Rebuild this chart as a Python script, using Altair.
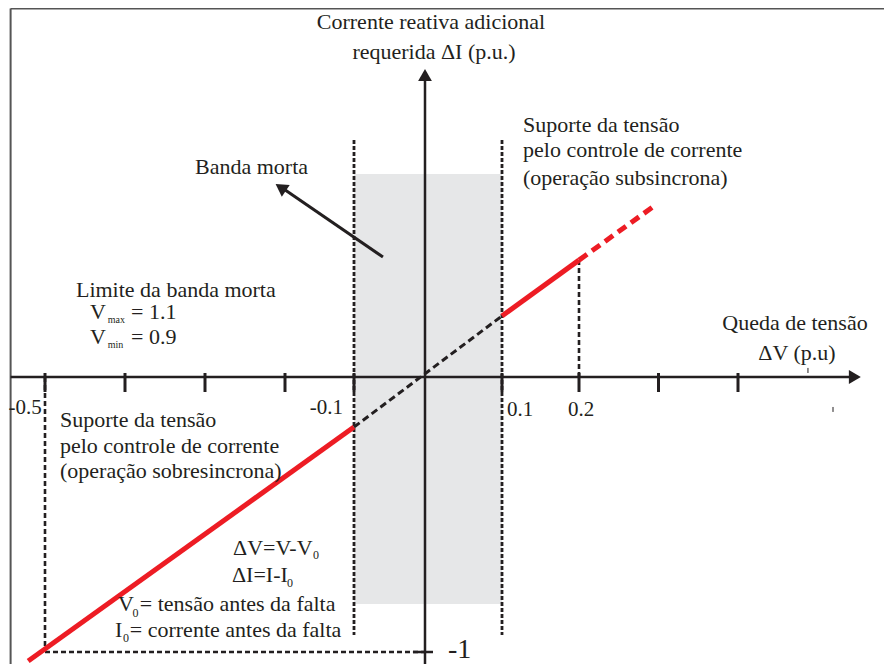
import altair as alt
import pandas as pd

INK = "#231f20"
RED = "#ed1c24"
FONT = "Liberation Serif"

# ---------------- data (ΔV in p.u. on x, ΔI in p.u. on y) ----------------
tick_dv = [-0.5, -0.4, -0.3, -0.2, -0.1, 0.1, 0.2, 0.3, 0.4]

tick_label_text = ["-0.5", "-0.1", "0.1", "0.2"]
tick_label_dv = [-0.504, -0.116, 0.1065, 0.1857]
tick_label_di = [-0.113, -0.113, -0.12, -0.12]

# characteristic ΔI = f(ΔV)
red_solid_dv = [[-0.521, -0.1], [0.1, 0.2]]
red_solid_di = [[-1.033, -0.182], [0.222, 0.425]]
dead_dv = [-0.1, 0.1]
dead_di = [-0.182, 0.222]
red_dash_dv = [0.2, 0.296]
red_dash_di = [0.425, 0.625]

# dead band
band_dv = [-0.1, 0.1]
band_di = [-0.825, 0.738]

# guide (dashed) lines: x, y, x2, y2
guide_x = [-0.1, 0.1, 0.2, -0.5, -0.5]
guide_y = [0.862, 0.862, 0.0, 0.0, -1.0]
guide_x2 = [-0.1, 0.1, 0.2, -0.5, 0.0]
guide_y2 = [-0.938, -0.938, 0.425, -0.993, -1.0]

# ---------------- scales ----------------
XS = alt.Scale(type="linear", domain=[-0.5, -0.2, -0.1, 0.0, 0.1, 0.2, 0.4],
               range=[37, 277, 346, 417, 494, 571, 730], nice=False, zero=False)
YS = alt.Scale(type="linear", domain=[-1.0, 0.0], range=[644, 369], nice=False, zero=False)


def ex(f="x"):
    return alt.X(f, type="quantitative", scale=XS, axis=None)


def ey(f="y"):
    return alt.Y(f, type="quantitative", scale=YS, axis=None)


def seg_df(xs, ys, x2s, y2s):
    return pd.DataFrame({"x": xs, "y": ys, "x2": x2s, "y2": y2s})


def rules(df, **mk):
    return alt.Chart(df).mark_rule(**mk).encode(
        x=ex("x"), y=ey("y"), x2=alt.X2("x2"), y2=alt.Y2("y2"))


layers = []

# frame (top and left border)
layers.append(rules(seg_df([-0.543, -0.543], [1.34, 1.34], [0.75, -0.543], [1.34, -1.2]),
                    color="#555555", strokeWidth=2))

# dead band rectangle
layers.append(alt.Chart(pd.DataFrame({"x": [band_dv[0]], "x2": [band_dv[1]],
                                      "y": [band_di[0]], "y2": [band_di[1]]}))
              .mark_rect(color="#e6e7e8").encode(x=ex("x"), x2=alt.X2("x2"), y=ey("y"), y2=alt.Y2("y2")))

# dashed guides
layers.append(rules(seg_df(guide_x[:2], guide_y[:2], guide_x2[:2], guide_y2[:2]),
                    color=INK, strokeWidth=2.8, strokeDash=[4, 2]))
layers.append(rules(seg_df(guide_x[2:], guide_y[2:], guide_x2[2:], guide_y2[2:]),
                    color=INK, strokeWidth=2.6, strokeDash=[5, 3]))

# axes
layers.append(rules(seg_df([-0.543, 0.0], [0.0, -1.1], [0.542, 0.0], [0.0, 1.09]),
                    color=INK, strokeWidth=2.5))
# x ticks
layers.append(rules(seg_df(tick_dv, [0.0145] * len(tick_dv), tick_dv, [-0.0545] * len(tick_dv)),
                    color=INK, strokeWidth=3))
# y tick at -1
layers.append(rules(seg_df([-0.017], [-1.0], [0.0104], [-1.0]), color=INK, strokeWidth=2.5))
# small stray marks
layers.append(rules(seg_df([0.488, 0.5195], [0.033, -0.109], [0.488, 0.5195], [0.0145, -0.127]),
                    color=INK, strokeWidth=1))

# arrow heads of the axes
layers.append(alt.Chart(pd.DataFrame({"x": [0.547], "y": [0.0]}))
              .mark_point(shape="triangle-right", filled=True, size=190, color=INK, opacity=1)
              .encode(x=ex(), y=ey()))
layers.append(alt.Chart(pd.DataFrame({"x": [0.0], "y": [1.098]}))
              .mark_point(shape="triangle-up", filled=True, size=190, color=INK, opacity=1)
              .encode(x=ex(), y=ey()))

# characteristic
layers.append(rules(seg_df([a[0] for a in red_solid_dv], [a[0] for a in red_solid_di],
                           [a[1] for a in red_solid_dv], [a[1] for a in red_solid_di]),
                    color=RED, strokeWidth=5))
layers.append(rules(seg_df([dead_dv[0]], [dead_di[0]], [dead_dv[1]], [dead_di[1]]),
                    color=INK, strokeWidth=3, strokeDash=[7, 4]))
layers.append(rules(seg_df([red_dash_dv[0]], [red_dash_di[0]], [red_dash_dv[1]], [red_dash_di[1]]),
                    color=RED, strokeWidth=5, strokeDash=[10, 6]))

# "Banda morta" arrow
layers.append(rules(seg_df([-0.0592], [0.436], [-0.2034], [0.687]), color=INK, strokeWidth=3))
layers.append(alt.Chart(pd.DataFrame({"x": [-0.2054], "y": [0.689]}))
              .mark_point(shape="triangle-up", filled=True, size=200, color=INK, opacity=1, angle=304)
              .encode(x=ex(), y=ey()))


def texts(tx, xs, ys, align, size):
    df = pd.DataFrame({"x": xs, "y": ys, "t": tx})
    return alt.Chart(df).mark_text(align=align, baseline="middle", font=FONT,
                                   fontSize=size, color=INK).encode(
        x=ex(), y=ey(), text="t:N")


# centred labels
layers.append(texts(["Corrente reativa adicional", "requerida ΔI (p.u.)",
                     "Queda de tensão", "ΔV (p.u)"],
                    [0.0078, 0.0117, 0.4717, 0.4742],
                    [1.291, 1.182, 0.196, 0.087], "center", 22))

# left aligned labels
left_text = ["Suporte da tensão", "pelo controle de corrente", "(operação subsincrona)",
             "Banda morta", "Limite da banda morta",
             "Suporte da tensão", "pelo controle de corrente", "(operação sobresincrona)",
             "ΔV=V-V", "ΔI=I-I", "V", "= tensão antes da falta", "I", "= corrente antes da falta",
             "V", "= 1.1", "V", "= 0.9"]
left_x = [0.1273, 0.1273, 0.1273,
          -0.3125, -0.4613,
          -0.4813, -0.4813, -0.4813,
          -0.265, -0.2663, -0.4088, -0.3815, -0.4125, -0.394,
          -0.4438, -0.3925, -0.4438, -0.3925]
left_y = [0.916, 0.825, 0.724,
          0.764, 0.316,
          -0.156, -0.251, -0.342,
          -0.622, -0.72, -0.8255, -0.8255, -0.92, -0.92,
          0.236, 0.236, 0.145, 0.145]
layers.append(texts(left_text, left_x, left_y, "left", 22))

# subscripts
layers.append(texts(["0", "0", "0", "0"], [-0.1594, -0.1971, -0.3905, -0.4025],
                    [-0.647, -0.749, -0.858, -0.949], "left", 12))
layers.append(texts(["max", "min"], [-0.4215, -0.4215], [0.206, 0.115], "left", 10))

# tick labels
layers.append(texts(tick_label_text[:2], tick_label_dv[:2], tick_label_di[:2], "right", 21))
layers.append(texts(tick_label_text[2:], tick_label_dv[2:], tick_label_di[2:], "left", 21))
layers.append(texts(["-1"], [0.0299], [-0.993], "left", 28))

chart = alt.layer(*layers).properties(
    width=876, height=656, padding=0,
    autosize=alt.AutoSizeParams(type="none"),
    background="white",
).configure_view(stroke=None)

chart.save("out.html", embed_options={"renderer": "svg", "actions": False})
